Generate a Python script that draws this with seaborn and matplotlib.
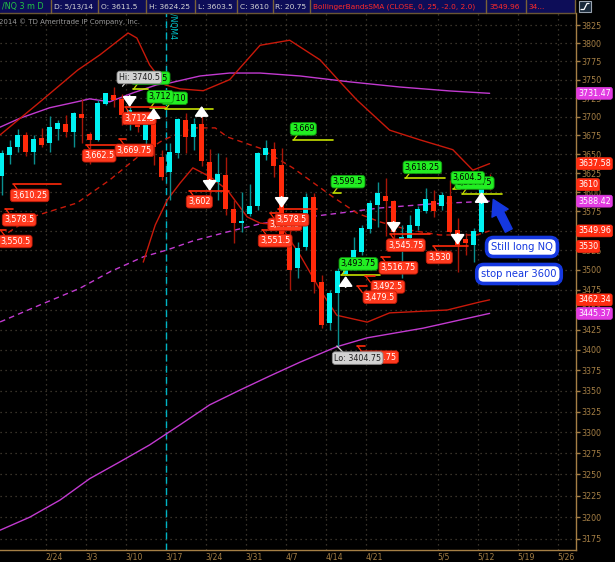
import numpy as np
import pandas as pd
import matplotlib
matplotlib.use("Agg")
import matplotlib.pyplot as plt
import seaborn as sns
from matplotlib.patches import Rectangle
from matplotlib.ticker import NullLocator

# /NQ daily bars 2014-02-14 .. 2014-05-13 (bar index 0 .. 61)
opens = [3621, 3649, 3659, 3675, 3653, 3672, 3665, 3684, 3690, 3680,
         3704, 3677, 3669, 3717, 3729, 3723.5, 3696.5, 3696.5, 3669, 3704.5,
         3646, 3627, 3652, 3695.5, 3672.5, 3690, 3640, 3614, 3622.5, 3578,
         3560, 3572, 3582, 3649, 3656.5, 3636, 3534, 3502, 3529, 3594,
         3485, 3433, 3470.5, 3495, 3504, 3523, 3552, 3583.5, 3595, 3588,
         3538.5, 3540.5, 3556, 3576, 3589, 3582, 3595, 3551, 3539.5, 3532,
         3549, 3611.5]
highs = [3656, 3669, 3683, 3679, 3676, 3685, 3701, 3696, 3702, 3706,
         3724, 3680, 3722, 3732, 3740.5, 3731, 3714.5, 3705, 3700, 3709,
         3655.5, 3665, 3698, 3704.5, 3698, 3710, 3656.5, 3651, 3646.5, 3590,
         3601, 3610.5, 3653, 3669, 3666.5, 3658, 3551, 3536, 3599, 3599.5,
         3493.5, 3475, 3502.5, 3510, 3542, 3557.5, 3590, 3614, 3618.25, 3590,
         3557.5, 3570.5, 3581.5, 3605, 3603, 3601, 3616, 3566, 3547, 3553.5,
         3606, 3624.25]
lows = [3596, 3637, 3653, 3648, 3637, 3660, 3653, 3669, 3673, 3660,
        3665, 3637, 3668, 3716, 3713.5, 3689, 3682, 3680, 3662, 3636,
        3616, 3590, 3645, 3651, 3655.5, 3634, 3590, 3590, 3570.5, 3535,
        3549, 3569, 3577, 3642, 3620.5, 3538, 3475, 3489.5, 3525.5, 3470.5,
        3427, 3425, 3404.75, 3493.75, 3500, 3519, 3547, 3555.5, 3543.5, 3540,
        3490, 3536, 3551, 3573, 3568.5, 3577, 3547, 3498, 3519, 3510.5,
        3547, 3603.5]
closes = [3651, 3660, 3675, 3653, 3670, 3662, 3686, 3692, 3680, 3705,
          3698, 3669, 3718, 3731.75, 3722.5, 3702, 3709, 3686, 3696.5, 3660,
          3620.5, 3653, 3696.5, 3673, 3690, 3641.5, 3611.5, 3624, 3578, 3560,
          3563, 3582, 3651, 3658, 3634.5, 3545, 3500, 3527.5, 3593.5, 3485,
          3431, 3471.5, 3499, 3506.5, 3525, 3553.5, 3586, 3598.5, 3589, 3549,
          3542, 3557.5, 3578, 3591, 3575, 3596.5, 3549, 3532, 3534, 3550,
          3605, 3610]

# Bollinger bands (25, red)
bb_up_bar = [-0.2, 4.8, 9.5, 12.3, 15.8, 16.9, 18.5, 20.4, 22.3, 25.2, 28.5,
             32.3, 36.0, 39.8, 42.3, 44.4, 48.5, 52.3, 56.4, 58.9, 61]
bb_up = [3675.6, 3720, 3763, 3784, 3814, 3807, 3770, 3743, 3737.5, 3735, 3750,
         3797, 3804, 3777, 3747, 3722.5, 3682, 3669, 3656, 3629, 3637.58]
bb_mid_bar = [-0.2, 3.8, 9.4, 13.5, 17.3, 20.2, 23.9, 26.7, 28.2, 32.3, 36.4,
              41.4, 44.4, 47.3, 51.0, 54.8, 59.4, 61]
bb_mid = [3541, 3568, 3586, 3616, 3649, 3669, 3685, 3685, 3673, 3658, 3632,
          3594, 3573, 3561.5, 3551, 3544.7, 3544.7, 3549.96]
bb_lo_bar = [17.7, 19.2, 20.7, 22.3, 23.9, 26.1, 28.2, 30.7, 32.3, 34.8, 37.3,
             39.8, 41.9, 45.7, 48.5, 55.7, 59.8, 61]
bb_lo = [3510, 3557.6, 3590, 3612, 3632, 3620, 3603, 3568, 3560, 3557.6, 3519,
         3475, 3443, 3434.5, 3446, 3449.6, 3459.7, 3462.34]

# second band set (magenta)
mg_up_bar = [-0.2, 2.3, 6.0, 9.4, 11.0, 13.5, 16.4, 19.4, 21.0, 24.8, 28.5,
             32.3, 37.3, 43.5, 49.8, 56.0, 61]
mg_up = [3686, 3698, 3712, 3720, 3724, 3720, 3732, 3743, 3745.5, 3755, 3759,
         3759, 3755, 3747, 3740, 3734.7, 3731.47]
mg_mid_bar = [-0.2, 4.8, 9.8, 13.5, 17.7, 20.7, 23.9, 28.2, 32.3, 37.3, 42.3,
              47.3, 53.9, 61]
mg_mid = [3434.7, 3456, 3477, 3497.5, 3516.7, 3525.6, 3537, 3548.6, 3559,
          3566.7, 3573, 3579.6, 3585, 3588.42]
mg_lo_bar = [-0.2, 3.5, 7.3, 11.0, 14.8, 18.5, 22.3, 26.0, 29.8, 33.5, 37.3,
             41.9, 45.7, 52.7, 61]
mg_lo = [3185, 3200, 3220, 3245, 3265, 3285, 3309, 3333, 3351, 3368, 3385,
         3404, 3415, 3427, 3445.37]

# axis labels
week_labels = ["2/24", "3/3", "3/10", "3/17", "3/24", "3/31", "4/7", "4/14",
               "4/21", "5/5", "5/12", "5/19", "5/26"]
week_pos = [5.5, 10.5, 15.5, 20.5, 25.5, 30.5, 35.5, 40.5, 45.5, 54.5, 59.5,
            64.5, 69.5]
price_levels = list(range(3175, 3826, 25))

# swing labels: value, line start/end (bars), box left (bar)
red_marks = [3610.25, 3578.5, 3550.5, 3662.5, 3669.75, 3712.5, 3602, 3572.5,
             3578.5, 3551.5, 3545.75, 3516.75, 3530, 3492.5, 3479.5, 3404.75]
red_layout = [(1.4, 7.4, 1.3), (0.4, 1.4, 0.3), (-0.2, 0.5, -0.2),
              (10.5, 14.5, 10.3), (14.7, 15.5, 14.4), (15.4, 20.4, 15.3),
              (23.4, 28.4, 23.3), (33.5, 35.2, 33.5), (34.5, 39.4, 34.4),
              (32.5, 34.2, 32.3), (48.5, 53.5, 48.3), (47.4, 48.5, 47.4),
              (53.9, 58.3, 53.3), (45.4, 46.7, 46.4), (44.4, 45.7, 45.4),
              (44.4, 45.4, 45.0)]
green_marks = [3737.25, 3710, 3712, 3669, 3599.5, 3618.25, 3597.75, 3604.5,
               3493.75]
green_layout = [(16.4, 18.3, 16.4), (20.4, 26.4, 20.2), (18.5, 20.5, 18.4),
                (36.4, 41.4, 36.3), (41.4, 42.4, 41.4), (50.4, 55.4, 50.4),
                (57.5, 62.5, 56.9), (56.4, 57.3, 56.4), (42.4, 47.3, 42.4)]

# signal arrows: bar, direction, tip price
arrow_bars = [16, 19, 25, 26, 35, 43, 49, 57, 60]
arrow_dirs = ["down", "up", "up", "down", "down", "up", "down", "down", "up"]
arrow_tips = [3713, 3711.6, 3714.5, 3601.7, 3579.6, 3492.4, 3547.3, 3532, 3600.4]

# last values shown on the price axis
axis_values = [3731.47, 3637.58, 3610, 3588.42, 3549.96, 3530, 3462.34, 3445.37]
axis_colors = ["#e23be2", "#ff2d12", "#ff2d12", "#e23be2", "#ff2d12", "#ff2d12",
               "#ff2d12", "#e23be2"]

header_items = ["/NQ 3 m D", "D: 5/13/14", "O: 3611.5", "H: 3624.25",
                "L: 3603.5", "C: 3610", "R: 20.75",
                "BollingerBandsSMA (CLOSE, 0, 25, -2.0, 2.0)", "3549.96", "34..."]

# ---------------------------------------------------------------------------
CYAN, CYAN_WICK = "#00f2f2", "#0a8f8f"
RED, RED_WICK = "#ff2a0a", "#a81608"
BAND_RED, MAGENTA = "#c8190a", "#c23ad0"
TAN, GRID = "#a57f45", "#4a4236"
GREEN_BOX, GREEN_LINE = "#22ee22", "#c6e000"
BLUE = "#1538e0"

sns.set_theme(style="dark", rc={"axes.facecolor": "black",
                                "figure.facecolor": "black"})
plt.rcParams["font.family"] = ["DejaVu Sans"]

W, H = 615, 562
AX_T, AX_B, AX_R = 13, 550, 576
Y_MIN, Y_MAX = 3162.2, 3841.7
fig = plt.figure(figsize=(W / 100, H / 100), dpi=100)
ax = fig.add_axes([0, 1 - AX_B / H, AX_R / W, (AX_B - AX_T) / H])
ax.set_facecolor("black")
ax.set_yscale("log")
ax.set_xlim(-0.21, 71.8)
ax.set_ylim(Y_MIN, Y_MAX)
PX_PER_LN = (AX_B - AX_T) / np.log(Y_MAX / Y_MIN)


def shift(v, px):
    """move a price by px screen pixels (up = positive)"""
    return v * np.exp(px / PX_PER_LN)


# grid / ticks
ax.set_yticks(price_levels)
ax.set_yticklabels([str(v) for v in price_levels])
ax.yaxis.set_minor_locator(NullLocator())
ax.set_xticks(week_pos)
ax.set_xticklabels(week_labels)
ax.yaxis.tick_right()
ax.grid(True, color=GRID, linestyle=(0, (1, 3)), linewidth=0.9)
ax.tick_params(axis="y", right=True, left=False, length=3, width=1, color=TAN,
               labelcolor=TAN, labelsize=5.8, pad=1)
ax.tick_params(axis="x", bottom=True, length=0, width=1, color=TAN,
               labelcolor=TAN, labelsize=5.6, pad=1.5)
plt.setp(ax.get_xticklabels(), ha="left")
for s in ["left", "top"]:
    ax.spines[s].set_visible(False)
for s in ["right", "bottom"]:
    ax.spines[s].set_color(TAN)
    ax.spines[s].set_linewidth(1)

# contract roll marker
ax.axvline(20.5, color="#00b4c4", linestyle=(0, (5, 3)), linewidth=1, zorder=1)
ax.text(20.85, Y_MAX, "/NQM4", rotation=270, color="#00c8d0", fontsize=5.6,
        ha="left", va="top")

# bands
for xs, ys, col, dashed in [(mg_lo_bar, mg_lo, MAGENTA, False),
                            (mg_mid_bar, mg_mid, MAGENTA, True),
                            (mg_up_bar, mg_up, MAGENTA, False),
                            (bb_lo_bar, bb_lo, BAND_RED, False),
                            (bb_mid_bar, bb_mid, BAND_RED, True),
                            (bb_up_bar, bb_up, BAND_RED, False)]:
    sns.lineplot(x=xs, y=ys, ax=ax, color=col, linewidth=1.0, sort=False,
                 estimator=None, linestyle=(0, (4, 3)) if dashed else "-",
                 zorder=2)

# candles
df = pd.DataFrame({"bar": np.arange(len(opens)), "open": opens, "high": highs,
                   "low": lows, "close": closes})
up = (df["close"] >= df["open"]).to_numpy()
lo_b = df[["open", "close"]].min(axis=1).to_numpy()
hi_b = np.maximum(df[["open", "close"]].max(axis=1).to_numpy(), shift(lo_b, 1.5))
ax.vlines(df["bar"], df["low"], df["high"], colors=np.where(up, CYAN_WICK, RED_WICK),
          linewidth=1, zorder=3)
ax.bar(df["bar"], hi_b - lo_b, bottom=lo_b, width=0.62,
       color=np.where(up, CYAN, RED), linewidth=0, zorder=4)

# swing labels
def fmt(v):
    s = f"{v:,.2f}".rstrip("0").rstrip(".")
    return s


def swing(v, x0, x1, bx, green):
    line_c = GREEN_LINE if green else RED
    ax.plot([x0, x1], [v, v], color=line_c, linewidth=1.2, zorder=5)
    sign = 1 if green else -1
    ax.plot([x0 + 0.1, x0 + 0.7], [v, shift(v, sign * 6.5)], color=line_c,
            linewidth=0.9, zorder=5)
    ax.text(bx, shift(v, sign * 6.5), fmt(v), fontsize=5.8,
            color="black" if green else "white", ha="left",
            va="bottom" if green else "top", zorder=6,
            bbox=dict(boxstyle="round,pad=0.22,rounding_size=0.35",
                      fc=GREEN_BOX if green else "#ff3a1e",
                      ec="#119911" if green else "#c01a08", lw=0.6))


for v, (x0, x1, bx) in zip(green_marks, green_layout):
    swing(v, x0, x1, bx, True)
for v, (x0, x1, bx) in zip(red_marks, red_layout):
    swing(v, x0, x1, bx, False)

# high / low tags
for txt, bx, by, px, py in [("Hi: 3740.5", 17.2, 3753, 15.1, 3741),
                            ("Lo: 3404.75", 44.5, 3390, 41.9, 3405)]:
    ax.plot([bx - 1.6, px], [shift(by, 4 if by < py else -4), py],
            color="#cfcfcf", linewidth=0.9, zorder=7)
    ax.text(bx, by, txt, fontsize=5.8, color="#202020", ha="center",
            va="center", zorder=8,
            bbox=dict(boxstyle="round,pad=0.22,rounding_size=0.35",
                      fc="#d2d2d2", ec="#8a8a8a", lw=0.6))

# white signal arrows
for b, d, tip in zip(arrow_bars, arrow_dirs, arrow_tips):
    tail = shift(tip, 11 if d == "down" else -11)
    ax.annotate("", xy=(b, tip), xytext=(b, tail),
                arrowprops=dict(arrowstyle="-|>,head_width=0.35,head_length=0.5",
                                color="white", lw=1.4, shrinkA=0, shrinkB=0),
                zorder=9)

# values on the price axis
for v, c in zip(axis_values, axis_colors):
    ax.annotate(f"{v:g}", xy=(1.0, v), xycoords=("axes fraction", "data"),
                xytext=(1.5, 0), textcoords="offset points", ha="left",
                va="center", fontsize=5.8, color="white", annotation_clip=False,
                zorder=10,
                bbox=dict(boxstyle="round,pad=0.18,rounding_size=0.25",
                          fc=c, ec=c, lw=0.5))

# header bar
fig.patches.append(Rectangle((0, 1 - 13 / H), 575 / W, 13 / H,
                             transform=fig.transFigure, fc="#0d0d58",
                             ec="none", zorder=0))
fig.add_artist(plt.Line2D([0, 575 / W], [1 - 13 / H] * 2,
                          transform=fig.transFigure, color="#6a5634", lw=1))
for sx in [50.7, 97.7, 145.7, 195, 237.3, 272.7, 310, 485.7, 525.7, 575]:
    fig.add_artist(plt.Line2D([sx / W] * 2, [1, 1 - 13 / H],
                              transform=fig.transFigure, color="#7a6238", lw=1))
head_x = [2, 54, 101, 149, 198, 240, 275, 313, 489, 528]
head_c = ["#22c844"] + ["#d6d6d6"] * 6 + ["#ff2a2a"] * 3
head_fs = [5.8] + [5.4] * 6 + [5.3, 5.4, 5.4]
for t, hx, c, fs in zip(header_items, head_x, head_c, head_fs):
    fig.text(hx / W, 1 - 6.8 / H, t, color=c, fontsize=fs, ha="left",
             va="center")
fig.patches.append(Rectangle((579 / W, 1 - 12 / H), 12 / W, 11 / H,
                             transform=fig.transFigure, fc="#1a2a3a",
                             ec="#9aa4b0", lw=0.8))
fig.add_artist(plt.Line2D(np.array([581, 584, 587, 589]) / W,
                          1 - np.array([9.5, 9.5, 3.5, 3.5]) / H,
                          transform=fig.transFigure, color="white", lw=0.9))
fig.text(-1 / W, 1 - 22 / H, "2014 \u00a9 TD Ameritrade IP Company, Inc.",
         color="#9a9a9a", fontsize=5.0, ha="left", va="center")

# annotations
box = dict(boxstyle="round,pad=0.45,rounding_size=0.7", fc="white", ec=BLUE,
           lw=2.6)
fig.text(522 / W, 1 - 247 / H, "Still long NQ", color=BLUE, fontsize=7.2,
         ha="center", va="center", bbox=box)
fig.text(519 / W, 1 - 274 / H, "stop near 3600", color=BLUE, fontsize=7.2,
         ha="center", va="center", bbox=box)
ax.annotate("", xy=(492, H - 197), xytext=(510, H - 233),
            xycoords="figure pixels", textcoords="figure pixels",
            arrowprops=dict(arrowstyle="simple,head_width=1.3,head_length=1.1,tail_width=0.55",
                            fc=BLUE, ec=BLUE, mutation_scale=10))

fig.savefig("out.png", dpi=100, facecolor="black")
